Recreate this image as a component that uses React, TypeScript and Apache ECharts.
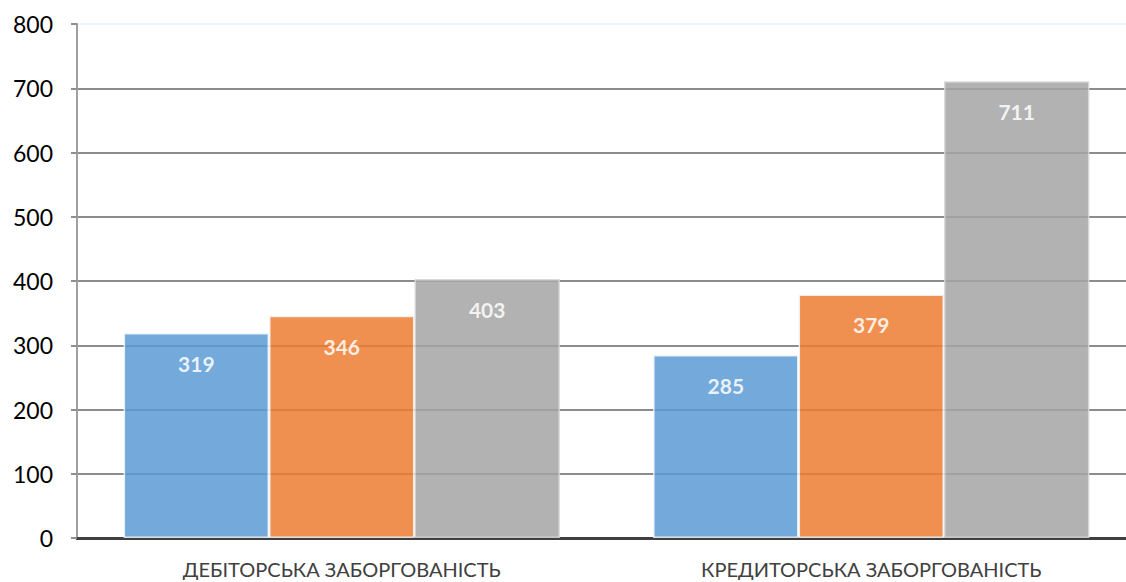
import React, { useEffect, useRef } from "react";
import * as echarts from "echarts";

const categories = ["ДЕБІТОРСЬКА ЗАБОРГОВАНІСТЬ", "КРЕДИТОРСЬКА ЗАБОРГОВАНІСТЬ"];
const seriesNames = ["Ряд 1", "Ряд 2", "Ряд 3"];
const series1 = [319, 285];
const series2 = [346, 379];
const series3 = [403, 711];
const colors = ["#5B9BD5", "#ED7D31", "#A5A5A5"];
const yMin = 0;
const yMax = 800;
const yInterval = 100;

export default function App() {
  const ref = useRef<HTMLDivElement>(null);
  useEffect(() => {
    if (!ref.current) return;
    const chart = echarts.init(ref.current, null, { renderer: "svg" });
    const values = [series1, series2, series3];
    chart.setOption({
      animation: false,
      backgroundColor: "#ffffff",
      textStyle: { fontFamily: "Lato, 'Noto Sans', sans-serif" },
      grid: { left: 77, right: 0, top: 24, bottom: 44, containLabel: false },
      xAxis: {
        type: "category",
        data: categories,
        axisLine: { show: true, lineStyle: { color: "#404040", width: 3 } },
        axisTick: { show: false },
        axisLabel: { color: "#404040", fontSize: 20, margin: 21, fontFamily: "Lato, 'Noto Sans', sans-serif" },
      },
      yAxis: {
        type: "value",
        min: yMin,
        max: yMax,
        interval: yInterval,
        axisLine: { show: true, lineStyle: { color: "#a0a0a0", width: 2 } },
        axisTick: { show: true, length: 6, lineStyle: { color: "#909090", width: 2 } },
        axisLabel: { color: "#000000", fontSize: 23, margin: 24, fontFamily: "Lato, 'Noto Sans', sans-serif" },
        splitLine: {
          show: true,
          lineStyle: {
            color: ["#ffffff", "#8c8c8c", "#8c8c8c", "#8c8c8c", "#8c8c8c", "#8c8c8c", "#8c8c8c", "#8c8c8c", "#eef4fb"],
            width: 2,
          },
        },
      },
      series: values.map((v, i) => ({
        type: "bar",
        name: seriesNames[i],
        data: v,
        barGap: "0%",
        barCategoryGap: "17.6%",
        itemStyle: {
          color: colors[i],
          opacity: 0.85,
          borderColor: i === 2 ? "#d8d8d8" : "#f4f8fc",
          borderWidth: 1.5,
        },
        label: {
          show: true,
          position: "insideTop",
          distance: 20,
          color: "#ffffff",
          fontWeight: "bold",
          fontSize: 21,
          fontFamily: "Lato, 'Noto Sans', sans-serif",
        },
      })),
    });
    return () => chart.dispose();
  }, []);
  return (
    <div style={{ position: "absolute", left: 0, top: 0, width: 1126, height: 582, overflow: "hidden" }}>
      <div ref={ref} style={{ width: 1136, height: 582 }} />
    </div>
  );
}
